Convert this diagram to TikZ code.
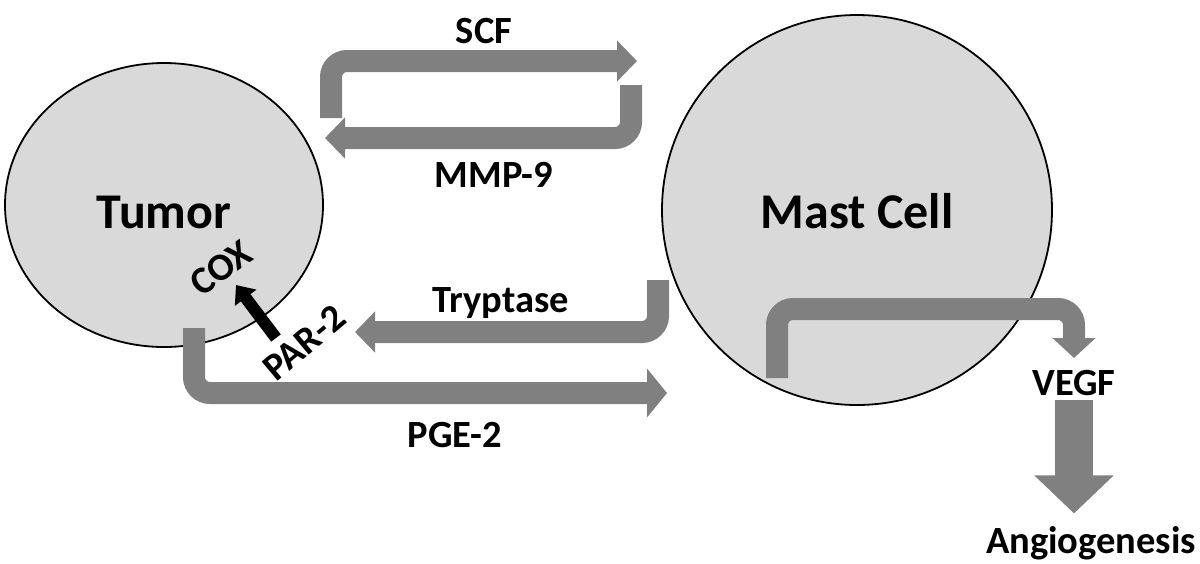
\documentclass[tikz,border=0pt]{standalone}
\usepackage{fontspec}
\setmainfont{Carlito}
\usetikzlibrary{arrows.meta,shapes.geometric}
\definecolor{cellgray}{HTML}{D9D9D9}
\definecolor{signalgray}{HTML}{808080}
\tikzset{
  cell/.style={draw,line width=1.8pt,fill=cellgray,inner sep=0pt,
    font=\fontsize{50}{52}\selectfont\bfseries},
  lbl/.style={anchor=base,inner sep=0pt,font=\fontsize{38.5}{40}\selectfont\bfseries},
  signal/.style={draw=signalgray,line width=22pt,rounded corners=16pt,
    -{Triangle[width=40pt,length=20pt]}}
}

\begin{document}
\begin{tikzpicture}[x=1pt,y=-1pt]
\useasboundingbox (0,0) rectangle (1200,563);
\node[cell,ellipse,minimum width=318pt,minimum height=284pt,text height=47pt,text depth=0pt] (tumor) at (164,205) {Tumor};
\node[cell,circle,minimum size=390pt,text height=37pt,text depth=0pt] (mast) at (857,210) {Mast Cell};
\coordinate (scfA) at (331,118); \coordinate (scfB) at (637,61);
\coordinate (mmpA) at (631,85); \coordinate (mmpB) at (325,138);
\coordinate (tryA) at (658,280); \coordinate (tryB) at (355,332);
\coordinate (pgeA) at (194,328); \coordinate (pgeB) at (667,393);
\coordinate (vegA) at (777,378); \coordinate (vegB) at (1074,358);
\coordinate (parA) at (276,338); \coordinate (parB) at (236,285);
\draw[signal] (scfA) |- (scfB);
\draw[signal] (mmpA) |- (mmpB);
\draw[signal] (tryA) |- (tryB);
\draw[signal,-{Triangle[width=48pt,length=20pt]}] (pgeA) |- (pgeB);
\draw[signal,-{Triangle[width=42pt,length=20pt]}] (vegA) -- (777,309) -| (vegB);
\node[lbl] (scf) at (484,43) {SCF};
\node[lbl] (mmp) at (494,187) {MMP-9};
\node[lbl] (try) at (501,312) {Tryptase};
\node[lbl] (pge) at (455,447) {PGE-2};
\node[lbl] (vegf) at (1074,395) {VEGF};
\node[lbl] (angio) at (1091,553) {Angiogenesis};
\draw[signalgray,line width=38pt,-{Triangle[width=77pt,length=38pt]}] ([yshift=-5pt]vegf.south) -- ++(0,113);
\node[lbl,anchor=center,rotate=35] (cox) at (221,268) {COX};
\node[lbl,anchor=center,rotate=40] (par) at (304,343) {PAR-2};
\draw[line width=12pt,-{Triangle[width=26pt,length=16pt]}] (parA) -- (parB);
\end{tikzpicture}
\end{document}
